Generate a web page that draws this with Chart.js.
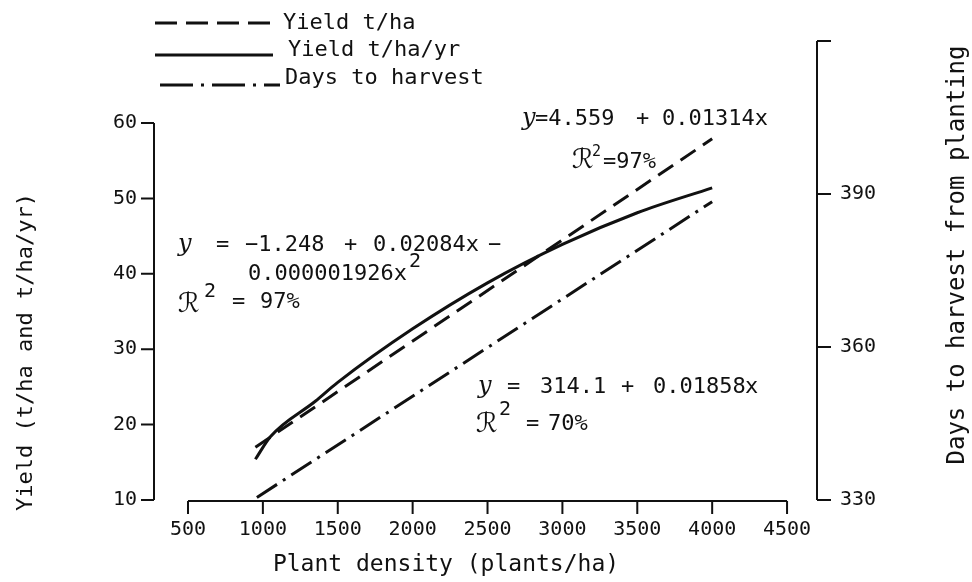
<!DOCTYPE html>
<html>
<head>
<meta charset="utf-8">
<script src="https://cdn.jsdelivr.net/npm/chart.js@4.4.1/dist/chart.umd.min.js"></script>
<style>
  html, body { margin: 0; padding: 0; background: #fff; }
  #wrap { width: 972px; height: 582px; }
</style>
</head>
<body>
<div id="wrap"><canvas id="chart" width="972" height="582"></canvas></div>
<script>
// Yield and days to harvest against plant density

// Yield t/ha (straight fit)
const densityYield = [950, 4000];
const yieldTha = [17.0, 57.9];

// Yield t/ha/yr (curved fit)
const densityYr = [950, 1050, 1350, 1500, 2000, 2500, 3000, 3500, 4000];
const yieldThaYr = [15.4, 18.4, 23.1, 25.6, 32.7, 38.8, 43.9, 48.1, 51.4];

// Days to harvest (right axis)
const densityDays = [960, 4000];
const daysHarvest = [330.5, 388.5];

const xTicks = [500, 1000, 1500, 2000, 2500, 3000, 3500, 4000, 4500];
const yTicks = [10, 20, 30, 40, 50, 60];
const y2Ticks = [330, 360, 390, 420];
const y2Labels = ['330', '360', '390', ''];

const legendLabels = ['Yield t/ha', 'Yield t/ha/yr', 'Days to harvest'];

const INK = '#111';
const MONO = '"DejaVu Sans Mono", monospace';

function pts(xs, ys) {
  return xs.map((x, i) => ({ x: x, y: ys[i] }));
}

function txt(ctx, s, x, y, font, align) {
  ctx.font = font;
  ctx.textAlign = align || 'left';
  ctx.textBaseline = 'middle';
  ctx.fillText(s, x, y);
}

const axesPlugin = {
  id: 'paperAxes',
  afterDraw(chart) {
    const ctx = chart.ctx;
    const sx = chart.scales.x, sy = chart.scales.y, sy2 = chart.scales.y2;
    ctx.save();
    ctx.strokeStyle = INK;
    ctx.fillStyle = INK;
    ctx.lineWidth = 2;
    ctx.setLineDash([]);

    // x axis
    const xb = sy.getPixelForValue(yTicks[0]) + 1;
    ctx.beginPath();
    ctx.moveTo(sx.getPixelForValue(xTicks[0]), xb);
    ctx.lineTo(sx.getPixelForValue(xTicks[xTicks.length - 1]), xb);
    xTicks.forEach(v => {
      const p = sx.getPixelForValue(v);
      ctx.moveTo(p, xb);
      ctx.lineTo(p, xb + 13);
    });
    ctx.stroke();
    xTicks.forEach(v => {
      txt(ctx, String(v), sx.getPixelForValue(v), 530, '20px ' + MONO, 'center');
    });
    txt(ctx, 'Plant density (plants/ha)', 446, 565, '23px ' + MONO, 'center');

    // left axis
    const xl = chart.chartArea.left;
    ctx.beginPath();
    ctx.moveTo(xl, sy.getPixelForValue(yTicks[0]));
    ctx.lineTo(xl, sy.getPixelForValue(yTicks[yTicks.length - 1]));
    yTicks.forEach(v => {
      const p = sy.getPixelForValue(v);
      ctx.moveTo(xl - 13, p);
      ctx.lineTo(xl, p);
    });
    ctx.stroke();
    yTicks.forEach(v => {
      txt(ctx, String(v), xl - 17, sy.getPixelForValue(v), '20px ' + MONO, 'right');
    });

    // right axis
    const xr = chart.chartArea.right;
    ctx.beginPath();
    ctx.moveTo(xr, sy2.getPixelForValue(y2Ticks[0]));
    ctx.lineTo(xr, sy2.getPixelForValue(y2Ticks[y2Ticks.length - 1]));
    y2Ticks.forEach(v => {
      const p = sy2.getPixelForValue(v);
      ctx.moveTo(xr, p);
      ctx.lineTo(xr + 14, p);
    });
    ctx.stroke();
    y2Ticks.forEach((v, i) => {
      txt(ctx, y2Labels[i], xr + 23, sy2.getPixelForValue(v), '20px ' + MONO, 'left');
    });

    // axis titles
    ctx.save();
    ctx.translate(26, 352);
    ctx.rotate(-Math.PI / 2);
    txt(ctx, 'Yield (t/ha and t/ha/yr)', 0, 0, '22px ' + MONO, 'center');
    ctx.restore();
    ctx.save();
    ctx.translate(958, 255);
    ctx.rotate(-Math.PI / 2);
    txt(ctx, 'Days to harvest from planting', 0, 0, '24px ' + MONO, 'center');
    ctx.restore();

    // legend
    const rows = [23, 55, 85];
    const textY = [23, 50, 78];
    const textX = [283, 288, 285];
    chart.data.datasets.forEach((ds, i) => {
      ctx.lineWidth = 3;
      ctx.setLineDash(ds.legendDash || []);
      ctx.beginPath();
      ctx.moveTo(i === 2 ? 160 : 155, rows[i]);
      ctx.lineTo(i === 2 ? 280 : 273, rows[i]);
      ctx.stroke();
      ctx.setLineDash([]);
      txt(ctx, legendLabels[i], textX[i], textY[i], '22px ' + MONO, 'left');
    });

    // equations
    const F = '22px ' + MONO;
    const FI = 'italic 24px "DejaVu Serif", serif';
    const FR = '27px "DejaVu Sans", "DejaVu Serif", sans-serif';
    const FS = '15px ' + MONO;

    txt(ctx, 'y', 522, 119, FI);
    txt(ctx, '=4.559', 535, 119, F);
    txt(ctx, '+', 636, 119, F);
    txt(ctx, '0.01314x', 662, 119, F);
    txt(ctx, '\u211B', 572, 161, FR);
    txt(ctx, '2', 592, 152, FS);
    txt(ctx, '=97%', 603, 162, F);

    txt(ctx, 'y', 178, 245, FI);
    txt(ctx, '=', 216, 245, F);
    txt(ctx, '\u22121.248', 245, 245, F);
    txt(ctx, '+', 344, 245, F);
    txt(ctx, '0.02084x', 373, 245, F);
    txt(ctx, '\u2212', 488, 245, F);
    txt(ctx, '0.000001926x', 248, 274, F);
    txt(ctx, '2', 409, 262, '20px ' + MONO);
    txt(ctx, '\u211B', 178, 305, FR);
    txt(ctx, '2', 204, 292, '20px ' + MONO);
    txt(ctx, '=', 232, 302, F);
    txt(ctx, '97%', 260, 302, F);

    txt(ctx, 'y', 478, 387, FI);
    txt(ctx, '=', 507, 387, F);
    txt(ctx, '314.1', 540, 387, F);
    txt(ctx, '+', 621, 387, F);
    txt(ctx, '0.01858', 653, 387, F);
    txt(ctx, 'x', 745, 387, F);
    txt(ctx, '\u211B', 476, 425, FR);
    txt(ctx, '2', 499, 410, '20px ' + MONO);
    txt(ctx, '=', 526, 424, F);
    txt(ctx, '70%', 548, 424, F);

    ctx.restore();
  }
};

new Chart(document.getElementById('chart'), {
  type: 'line',
  data: {
    datasets: [
      {
        label: legendLabels[0],
        data: pts(densityYield, yieldTha),
        yAxisID: 'y',
        borderColor: INK,
        borderWidth: 3,
        borderDash: [18, 9],
        legendDash: [22, 9],
        pointRadius: 0,
        fill: false
      },
      {
        label: legendLabels[1],
        data: pts(densityYr, yieldThaYr),
        yAxisID: 'y',
        borderColor: INK,
        borderWidth: 3,
        cubicInterpolationMode: 'monotone',
        pointRadius: 0,
        fill: false
      },
      {
        label: legendLabels[2],
        data: pts(densityDays, daysHarvest),
        yAxisID: 'y2',
        borderColor: INK,
        borderWidth: 3,
        borderDash: [24, 7, 3, 7],
        legendDash: [33, 8, 3, 8],
        pointRadius: 0,
        fill: false
      }
    ]
  },
  options: {
    responsive: false,
    animation: false,
    devicePixelRatio: 1,
    layout: { padding: { left: 154, right: 155, top: 41, bottom: 82 } },
    plugins: {
      legend: { display: false },
      tooltip: { enabled: false }
    },
    scales: {
      x: { type: 'linear', min: 273, max: 4700, display: false },
      y: { type: 'linear', min: 10, max: 70.88, display: false },
      y2: { type: 'linear', min: 330, max: 420, display: false, position: 'right' }
    }
  },
  plugins: [axesPlugin]
});
</script>
</body>
</html>
